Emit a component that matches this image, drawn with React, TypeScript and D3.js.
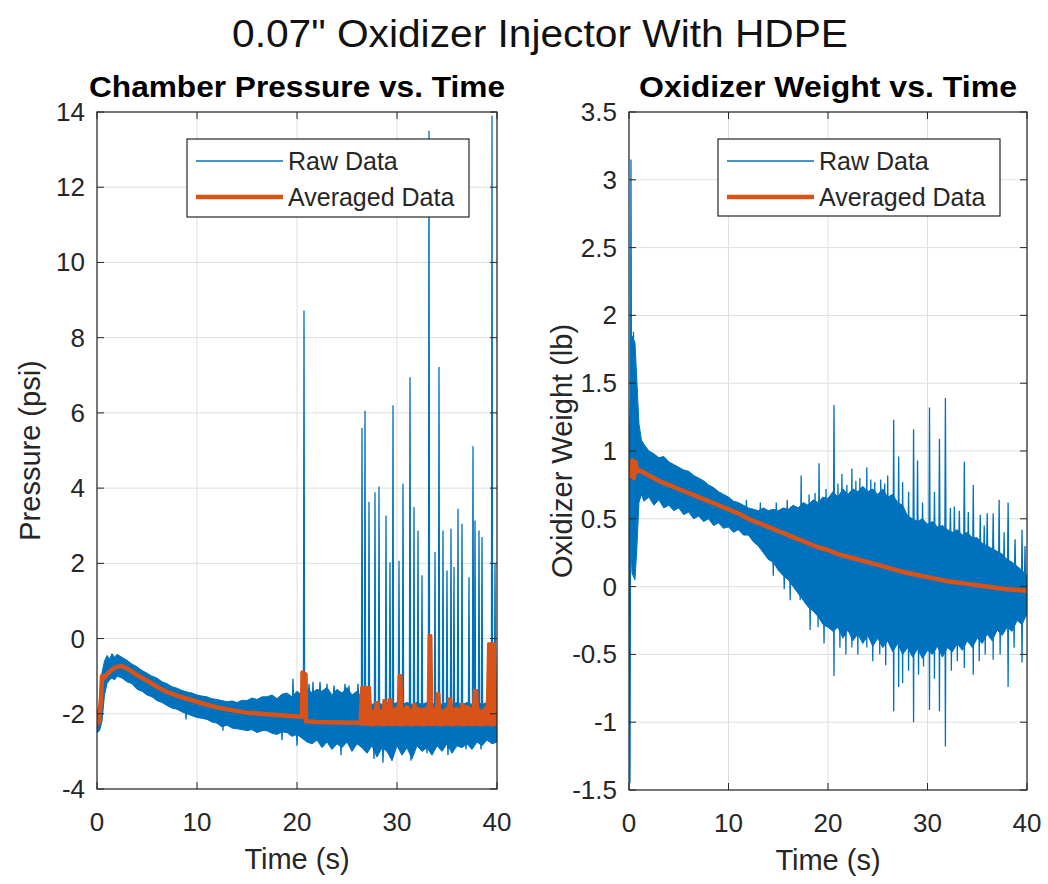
import React from 'react';
import * as d3 from 'd3';

const W = 1048;
const H = 884;
const BLUE = '#0072BD';
const ORANGE = '#D95319';
const AXIS = '#262626';
const GRID = '#dfdfdf';
const FONT = '"Liberation Sans", Arial, Helvetica, sans-serif';

// ---------- DATA ----------
const mainTitle = '0.07" Oxidizer Injector With HDPE';
const timeTicks = [0, 10, 20, 30, 40];
const pressureTicks = [-4, -2, 0, 2, 4, 6, 8, 10, 12, 14];
const weightTicks = [-1.5, -1, -0.5, 0, 0.5, 1, 1.5, 2, 2.5, 3, 3.5];
const weightTickLabels = ['-1.5', '-1', '-0.5', '0', '0.5', '1', '1.5', '2', '2.5', '3', '3.5'];
const legendLabels = ['Raw Data', 'Averaged Data'];

// raw pressure: [time, low, high] of the dense noise band
const pressureBand: [number, number, number][] = [
  [0, -2.5, -2.0], [0.25, -2.45, -1.7], [0.5, -2.2, -0.9], [0.75, -1.5, -0.6], [1.0, -1.2, -0.45],
  [1.25, -1.1, -0.55], [1.5, -1.05, -0.4], [1.75, -1.1, -0.5], [2.0, -1.0, -0.42], [2.5, -1.05, -0.5],
  [3.0, -1.15, -0.58], [3.5, -1.2, -0.68], [4.0, -1.35, -0.75], [4.5, -1.4, -0.85], [5.0, -1.5, -0.92],
  [5.5, -1.55, -1.0], [6.0, -1.65, -1.05], [6.5, -1.7, -1.15], [7.0, -1.78, -1.2], [7.5, -1.85, -1.28],
  [8.0, -1.88, -1.32], [8.5, -1.95, -1.38], [9.0, -2.0, -1.42], [9.5, -2.05, -1.45], [10, -2.1, -1.5],
  [10.5, -2.12, -1.53], [11, -2.15, -1.55], [11.5, -2.22, -1.6], [12, -2.25, -1.62], [12.5, -2.35, -1.65],
  [13, -2.3, -1.68], [13.5, -2.38, -1.66], [14, -2.4, -1.7], [14.5, -2.42, -1.64], [15, -2.45, -1.65],
  [15.5, -2.42, -1.58], [16, -2.5, -1.62], [16.5, -2.45, -1.55], [17, -2.45, -1.55], [17.5, -2.52, -1.5],
  [18, -2.55, -1.6], [18.5, -2.48, -1.48], [19, -2.5, -1.45], [19.5, -2.6, -1.55], [20, -2.55, -1.4],
  [20.5, -2.65, -1.5], [21, -2.75, -1.3], [21.5, -2.8, -1.45], [22, -2.7, -1.35], [22.5, -2.9, -1.4],
  [23, -2.75, -1.3], [23.5, -2.95, -1.5], [24, -2.8, -1.35], [24.5, -2.9, -1.45], [25, -2.75, -1.3],
  [25.5, -3.0, -1.5], [26, -2.8, -1.4], [26.5, -2.9, -1.6], [27, -3.05, -1.7], [27.5, -2.85, -1.75],
  [28, -3.15, -1.7], [28.5, -2.9, -1.75], [29, -3.0, -1.7], [29.5, -3.25, -1.75], [30, -2.85, -1.7],
  [30.5, -3.1, -1.75], [31, -2.9, -1.7], [31.5, -3.2, -1.75], [32, -2.85, -1.7], [32.5, -3.0, -1.75],
  [33, -2.9, -1.7], [33.5, -3.1, -1.75], [34, -2.85, -1.7], [34.5, -3.0, -1.75], [35, -2.8, -1.7],
  [35.5, -3.05, -1.75], [36, -2.85, -1.7], [36.5, -2.9, -1.75], [37, -2.8, -1.7], [37.5, -2.95, -1.75],
  [38, -2.75, -1.7], [38.5, -2.85, -1.75], [39, -2.7, -1.7], [39.5, -2.8, -1.75], [40, -2.75, -1.7],
];

// raw pressure spikes: [time, from, to]
const pressureSpikes: [number, number, number][] = [
  [19.6, -1.7, -1.07], [20.7, -2.0, 8.72], [21.2, -1.5, -1.2], [21.6, -1.6, -1.15], [22.3, -1.5, -1.15],
  [23.0, -1.6, -1.2], [23.7, -1.5, -1.25], [24.8, -1.5, -1.2], [25.2, -1.6, -1.25], [26.1, -1.5, -1.2],
  [26.5, -2.0, 5.6], [26.8, -2.0, 6.06], [27.2, -2.0, 3.63], [27.8, -2.0, 3.89], [28.2, -2.0, 4.04],
  [28.9, -2.0, 3.27], [29.3, -2.0, 2.03], [29.6, -2.0, 6.2], [30.2, -2.0, 2.07], [30.6, -2.0, 4.12],
  [31.3, -2.0, 6.95], [31.7, -2.0, 3.5], [32.1, -2.0, 2.87], [32.5, -2.0, 1.68], [33.2, -2.0, 13.5],
  [33.8, -2.0, 2.3], [34.2, -2.0, 7.22], [34.6, -2.0, 2.87], [35.0, -2.0, 1.81], [35.4, -2.0, 2.92],
  [35.7, -2.0, 1.9], [36.1, -2.0, 3.45], [36.5, -2.0, 3.05], [37.2, -2.0, 1.63], [37.6, -2.0, 5.11],
  [37.8, -2.0, 3.14], [38.2, -2.0, 2.87], [38.5, -2.0, 2.7], [39.5, -2.0, 13.9], [39.8, -2.0, 2.0],
  [8.9, -1.8, -2.15], [12.6, -2.0, -2.45], [18.5, -2.3, -2.7], [20.0, -2.4, -2.85], [24.4, -2.6, -3.1],
  [27.7, -2.7, -3.2], [28.6, -2.7, -3.3], [29.6, -2.7, -3.15], [31.4, -2.7, -3.25], [33.0, -2.7, -3.05],
  [35.1, -2.7, -3.1], [36.9, -2.6, -2.95], [38.4, -2.6, -2.95],
];

// averaged pressure, smooth part: [time, value]
const pressureAvg: [number, number][] = [
  [0, -2.3], [0.2, -2.2], [0.4, -1.6], [0.5, -1.0], [0.7, -1.05], [1.0, -0.95], [1.5, -0.82], [2.0, -0.75],
  [2.5, -0.73], [3, -0.8], [3.5, -0.88], [4, -0.97], [5, -1.12], [6, -1.28], [7, -1.42], [8, -1.52],
  [9, -1.6], [10, -1.68], [11, -1.76], [12, -1.83], [13, -1.88], [14, -1.93], [15, -1.97], [16, -1.99],
  [17, -2.01], [18, -2.03], [19, -2.05], [20, -2.07], [20.5, -2.08], [20.55, -0.9], [20.85, -0.95],
  [20.9, -2.2], [22, -2.22], [24, -2.23], [26, -2.24], [26.4, -2.24],
];

// averaged pressure, noisy part: [time, low, high]
const pressureAvgBand: [number, number, number][] = [
  [26.3, -2.27, -2.2], [26.5, -2.27, -1.9], [27, -2.27, -1.85], [27.5, -2.3, -1.95], [28, -2.27, -1.85],
  [28.5, -2.3, -1.95], [29, -2.27, -1.85], [29.5, -2.3, -1.9], [30, -2.27, -1.85], [30.5, -2.3, -1.95],
  [31, -2.27, -1.8], [31.5, -2.3, -1.95], [32, -2.27, -1.85], [32.5, -2.3, -1.9], [33, -2.27, -1.85],
  [33.5, -2.3, -1.95], [34, -2.27, -1.8], [34.5, -2.3, -1.95], [35, -2.27, -1.85], [35.5, -2.3, -1.9],
  [36, -2.27, -1.85], [36.5, -2.3, -1.95], [37, -2.27, -1.8], [37.5, -2.3, -1.9], [38, -2.27, -1.85],
  [38.5, -2.3, -1.95], [39, -2.27, -1.8], [39.5, -2.3, -1.9], [40, -2.27, -1.85],
];

// averaged pressure bumps: [start time, end time, peak]
const pressureAvgBumps: [number, number, number][] = [
  [26.3, 27.4, -1.3], [27.8, 28.2, -1.7], [28.6, 28.9, -1.65], [29.1, 29.5, -1.62], [30.1, 30.5, -0.98],
  [31.6, 31.9, -1.75], [33.1, 33.5, 0.08], [33.9, 34.3, -1.47], [35.1, 35.5, -1.6], [36.4, 36.7, -1.75],
  [37.6, 38.1, -1.38], [39.0, 39.9, -0.14],
];

// raw oxidizer weight: [time, low, high]
const weightBand: [number, number, number][] = [
  [0, 0.75, 0.95], [0.3, 0.1, 1.85], [0.6, 0.05, 1.8], [0.8, 0.3, 1.5], [1.0, 0.62, 1.2],
  [1.25, 0.68, 1.08], [1.5, 0.63, 1.05], [2.0, 0.66, 1.0], [2.5, 0.6, 0.98], [3.0, 0.64, 0.95],
  [3.5, 0.58, 0.96], [4.0, 0.6, 0.92], [4.5, 0.56, 0.9], [5.0, 0.58, 0.88], [5.5, 0.53, 0.86],
  [6.0, 0.55, 0.85], [6.5, 0.5, 0.82], [7.0, 0.52, 0.8], [7.5, 0.48, 0.78], [8.0, 0.5, 0.75],
  [8.5, 0.45, 0.73], [9.0, 0.47, 0.7], [9.5, 0.43, 0.68], [10, 0.44, 0.66], [10.5, 0.4, 0.63],
  [11, 0.42, 0.62], [11.5, 0.38, 0.6], [12, 0.38, 0.58], [12.5, 0.33, 0.57], [13, 0.3, 0.56],
  [13.5, 0.25, 0.58], [14, 0.2, 0.56], [14.5, 0.18, 0.57], [15, 0.12, 0.56], [15.5, 0.08, 0.58],
  [16, 0.05, 0.57], [16.5, 0.0, 0.6], [17, -0.05, 0.58], [17.5, -0.1, 0.62], [18, -0.15, 0.6],
  [18.5, -0.18, 0.64], [19, -0.22, 0.62], [19.5, -0.28, 0.66], [20, -0.3, 0.65], [20.5, -0.33, 0.7],
  [21, -0.3, 0.66], [21.5, -0.38, 0.72], [22, -0.32, 0.68], [22.5, -0.4, 0.72], [23, -0.35, 0.7],
  [23.5, -0.42, 0.74], [24, -0.36, 0.7], [24.5, -0.44, 0.72], [25, -0.38, 0.68], [25.5, -0.45, 0.72],
  [26, -0.4, 0.66], [26.5, -0.48, 0.68], [27, -0.42, 0.62], [27.5, -0.5, 0.6], [28, -0.45, 0.52],
  [28.5, -0.52, 0.5], [29, -0.46, 0.48], [29.5, -0.53, 0.5], [30, -0.47, 0.46], [30.5, -0.5, 0.48],
  [31, -0.44, 0.44], [31.5, -0.52, 0.45], [32, -0.45, 0.42], [32.5, -0.48, 0.4], [33, -0.42, 0.42],
  [33.5, -0.47, 0.38], [34, -0.4, 0.4], [34.5, -0.45, 0.36], [35, -0.38, 0.36], [35.5, -0.42, 0.32],
  [36, -0.35, 0.3], [36.5, -0.4, 0.28], [37, -0.32, 0.26], [37.5, -0.36, 0.24], [38, -0.3, 0.2],
  [38.5, -0.33, 0.18], [39, -0.25, 0.15], [39.5, -0.28, 0.12], [40, -0.2, 0.08],
];

// raw weight spikes: [time, from, to]
const weightSpikes: [number, number, number][] = [
  [0.1, 0.8, -1.45], [0.2, 0.8, 3.15], [0.45, 0.8, 1.88],
  [11.8, 0.5, 0.64], [13.2, 0.45, 0.62], [14.8, 0.4, 0.62], [15.9, 0.4, 0.64],
  [17.3, 0.3, 0.82], [18.1, 0.3, 0.68], [18.7, 0.3, 0.69], [19.1, 0.3, 0.91], [19.8, 0.3, 0.72],
  [20.6, 0.3, 1.34], [21.0, 0.3, 0.76], [21.4, 0.3, 0.83], [21.9, 0.3, 0.75], [22.4, 0.3, 0.87],
  [22.8, 0.3, 0.78], [23.2, 0.3, 0.8], [23.9, 0.3, 0.88], [24.3, 0.3, 0.79], [24.7, 0.3, 0.77],
  [25.3, 0.3, 0.79], [25.7, 0.3, 0.76], [26.0, 0.3, 0.82], [26.6, 0.3, 1.23], [27.1, 0.3, 0.96],
  [27.5, 0.3, 0.77], [28.1, 0.3, 0.7], [28.6, 0.3, 1.16], [29.0, 0.3, 0.93], [29.5, 0.3, 0.62],
  [30.2, 0.3, 1.32], [30.7, 0.3, 0.7], [31.2, 0.3, 1.09], [31.8, 0.3, 1.39], [32.3, 0.3, 0.58],
  [32.7, 0.3, 0.59], [33.2, 0.3, 0.56], [33.7, 0.3, 0.92], [34.1, 0.2, 0.55], [34.6, 0.2, 0.75],
  [35.3, 0.2, 0.53], [35.7, 0.2, 0.45], [36.0, 0.2, 0.54], [36.6, 0.2, 0.54], [37.2, 0.1, 0.64],
  [37.7, 0.1, 0.4], [38.1, 0.1, 0.62], [38.8, 0.1, 0.35], [39.5, 0.0, 0.42], [39.8, 0.0, 0.3],
  [14.5, 0.3, 0.08], [15.6, 0.2, -0.02], [16.2, 0.2, -0.1], [17.2, 0.3, -0.1], [18.2, 0.1, -0.32],
  [19.0, 0.3, -0.3], [19.6, 0.0, -0.42], [20.6, 0.3, -0.66], [21.2, 0.0, -0.45], [21.8, 0.0, -0.5],
  [22.4, 0.3, -0.45], [23.0, 0.0, -0.5], [23.9, 0.3, -0.45], [24.5, 0.0, -0.55], [25.2, 0.0, -0.5],
  [25.8, 0.0, -0.58], [26.6, 0.3, -0.92], [27.1, 0.3, -0.74], [27.5, 0.3, -0.71], [28.1, 0.0, -0.62],
  [28.6, 0.3, -1.0], [29.1, 0.0, -0.65], [29.6, 0.3, -0.59], [30.2, 0.3, -0.91], [30.7, 0.3, -0.68],
  [31.2, 0.3, -0.92], [31.8, 0.3, -1.18], [32.4, 0.0, -0.62], [33.0, 0.0, -0.55], [33.7, 0.3, -0.6],
  [34.6, 0.2, -0.65], [35.2, 0.0, -0.55], [35.8, 0.0, -0.5], [36.6, 0.2, -0.54], [37.3, 0.0, -0.5],
  [38.1, 0.1, -0.74], [38.7, 0.0, -0.45], [39.5, 0.0, -0.56],
];

// averaged oxidizer weight: [time, value]
const weightAvg: [number, number][] = [
  [0.2, 0.8], [0.35, 0.93], [0.5, 0.8], [0.65, 0.92], [0.8, 0.85], [1, 0.86], [2, 0.82], [3, 0.78],
  [4, 0.75], [5, 0.72], [6, 0.69], [7, 0.66], [8, 0.63], [9, 0.6], [10, 0.57], [11, 0.54], [12, 0.5],
  [13, 0.47], [14, 0.44], [15, 0.41], [16, 0.38], [17, 0.35], [18, 0.32], [19, 0.29], [20, 0.27],
  [21, 0.24], [22, 0.22], [23, 0.2], [24, 0.18], [25, 0.16], [26, 0.14], [27, 0.12], [28, 0.1],
  [29, 0.085], [30, 0.07], [31, 0.055], [32, 0.04], [33, 0.03], [34, 0.02], [35, 0.01], [36, 0.0],
  [37, -0.01], [38, -0.02], [39, -0.025], [40, -0.03],
];

// ---------- COMPONENTS ----------
type PanelProps = {
  id: string;
  x0: number; y0: number; w: number; h: number;
  yDomain: [number, number];
  yTicks: number[];
  yTickLabels: string[];
  title: string;
  titleLen: number;
  ylabel: string;
  ylabelX: number;
  band: [number, number, number][];
  spikes: [number, number, number][];
  avg: [number, number][];
  avgBand?: [number, number, number][];
  avgBumps?: [number, number, number][];
  avgBase?: number;
  legend: { x: number; y: number; w: number; h: number };
};

function Panel(p: PanelProps) {
  const xs = d3.scaleLinear().domain([0, 40]).range([p.x0, p.x0 + p.w]);
  const ys = d3.scaleLinear().domain(p.yDomain).range([p.y0 + p.h, p.y0]);
  const area = d3.area<[number, number, number]>()
    .x((d) => xs(d[0])).y0((d) => ys(d[1])).y1((d) => ys(d[2]));
  const line = d3.line<[number, number]>().x((d) => xs(d[0])).y((d) => ys(d[1]));
  const tickLen = 7;
  const cx = p.x0 + p.w / 2;
  const cy = p.y0 + p.h / 2;
  const L = p.legend;
  const base = p.avgBase ?? 0;
  return (
    <g>
      <defs>
        <clipPath id={p.id}>
          <rect x={p.x0} y={p.y0} width={p.w} height={p.h} />
        </clipPath>
      </defs>
      <rect x={p.x0} y={p.y0} width={p.w} height={p.h} fill="#fff" />
      {/* grid */}
      {timeTicks.map((t) => (
        <line key={'gx' + t} x1={xs(t)} x2={xs(t)} y1={p.y0} y2={p.y0 + p.h} stroke={GRID} strokeWidth={1} />
      ))}
      {p.yTicks.map((v) => (
        <line key={'gy' + v} x1={p.x0} x2={p.x0 + p.w} y1={ys(v)} y2={ys(v)} stroke={GRID} strokeWidth={1} />
      ))}
      {/* data */}
      <g clipPath={`url(#${p.id})`}>
        <path d={area(p.band) || ''} fill={BLUE} stroke={BLUE} strokeWidth={1} />
        {p.spikes.map((s, i) => (
          <path
            key={'s' + i}
            d={line([[s[0] - 0.06, s[1]], [s[0], s[2]], [s[0] + 0.06, s[1]]]) || ''}
            fill={BLUE}
            stroke={BLUE}
            strokeWidth={1.3}
            strokeLinejoin="miter"
          />
        ))}
        <path d={line(p.avg) || ''} fill="none" stroke={ORANGE} strokeWidth={4.5} strokeLinejoin="round" />
        {p.avgBand && (
          <path d={area(p.avgBand) || ''} fill={ORANGE} stroke={ORANGE} strokeWidth={3} strokeLinejoin="round" />
        )}
        {p.avgBumps && p.avgBumps.map((b, i) => {
          const top = Math.min(0.15, (b[1] - b[0]) / 4);
          return (
            <path
              key={'b' + i}
              d={line([[b[0], base], [b[0] + top, b[2]], [b[1] - top, b[2]], [b[1], base]]) || ''}
              fill={ORANGE}
              stroke={ORANGE}
              strokeWidth={3}
              strokeLinejoin="round"
            />
          );
        })}
      </g>
      {/* box & ticks */}
      <rect x={p.x0} y={p.y0} width={p.w} height={p.h} fill="none" stroke={AXIS} strokeWidth={1.2} />
      {timeTicks.map((t) => (
        <g key={'tx' + t}>
          <line x1={xs(t)} x2={xs(t)} y1={p.y0 + p.h} y2={p.y0 + p.h - tickLen} stroke={AXIS} />
          <line x1={xs(t)} x2={xs(t)} y1={p.y0} y2={p.y0 + tickLen} stroke={AXIS} />
          <text x={xs(t)} y={p.y0 + p.h + 42} textAnchor="middle" fontSize={26} fill={AXIS} fontFamily={FONT}>
            {t}
          </text>
        </g>
      ))}
      {p.yTicks.map((v, i) => (
        <g key={'ty' + v}>
          <line x1={p.x0} x2={p.x0 + tickLen} y1={ys(v)} y2={ys(v)} stroke={AXIS} />
          <line x1={p.x0 + p.w} x2={p.x0 + p.w - tickLen} y1={ys(v)} y2={ys(v)} stroke={AXIS} />
          <text x={p.x0 - 12} y={ys(v) + 9} textAnchor="end" fontSize={26} fill={AXIS} fontFamily={FONT}>
            {p.yTickLabels[i]}
          </text>
        </g>
      ))}
      {/* titles */}
      <text x={cx} y={p.y0 - 15} textAnchor="middle" fontSize={29} fontWeight="bold" fill="#000" fontFamily={FONT}
        textLength={p.titleLen} lengthAdjust="spacingAndGlyphs">
        {p.title}
      </text>
      <text x={cx} y={p.y0 + p.h + 80} textAnchor="middle" fontSize={29} fill={AXIS} fontFamily={FONT}>
        Time (s)
      </text>
      <text transform={`translate(${p.ylabelX},${cy}) rotate(-90)`} textAnchor="middle" fontSize={29} fill={AXIS} fontFamily={FONT}>
        {p.ylabel}
      </text>
      {/* legend */}
      <rect x={L.x} y={L.y} width={L.w} height={L.h} fill="#fff" stroke={AXIS} strokeWidth={1.2} />
      <line x1={L.x + 9} x2={L.x + 96} y1={L.y + 22} y2={L.y + 22} stroke={BLUE} strokeWidth={1.5} />
      <line x1={L.x + 9} x2={L.x + 96} y1={L.y + 58} y2={L.y + 58} stroke={ORANGE} strokeWidth={4.5} />
      <text x={L.x + 101} y={L.y + 31} fontSize={25} fill={AXIS} fontFamily={FONT}>{legendLabels[0]}</text>
      <text x={L.x + 101} y={L.y + 67} fontSize={25} fill={AXIS} fontFamily={FONT}>{legendLabels[1]}</text>
    </g>
  );
}

export default function App() {
  return (
    <svg
      width={W}
      height={H}
      viewBox={`0 0 ${W} ${H}`}
      style={{ position: 'absolute', left: 0, top: 0, background: '#fff' }}
    >
      <rect x={0} y={0} width={W} height={H} fill="#fff" />
      <text x={540} y={47} textAnchor="middle" fontSize={38} fill="#111" fontFamily={FONT}
        textLength={616} lengthAdjust="spacingAndGlyphs">
        {mainTitle}
      </text>
      <Panel
        id="clipP"
        x0={97} y0={112} w={400} h={677}
        yDomain={[-4, 14]}
        yTicks={pressureTicks}
        yTickLabels={pressureTicks.map(String)}
        title="Chamber Pressure vs. Time"
        titleLen={416}
        ylabel="Pressure (psi)"
        ylabelX={40}
        band={pressureBand}
        spikes={pressureSpikes}
        avg={pressureAvg}
        avgBand={pressureAvgBand}
        avgBumps={pressureAvgBumps}
        avgBase={-2.1}
        legend={{ x: 187, y: 139, w: 282, h: 78 }}
      />
      <Panel
        id="clipW"
        x0={629} y0={112} w={398} h={678}
        yDomain={[-1.5, 3.5]}
        yTicks={weightTicks}
        yTickLabels={weightTickLabels}
        title="Oxidizer Weight vs. Time"
        titleLen={378}
        ylabel="Oxidizer Weight (lb)"
        ylabelX={572}
        band={weightBand}
        spikes={weightSpikes}
        avg={weightAvg}
        legend={{ x: 718, y: 139, w: 282, h: 77 }}
      />
    </svg>
  );
}
